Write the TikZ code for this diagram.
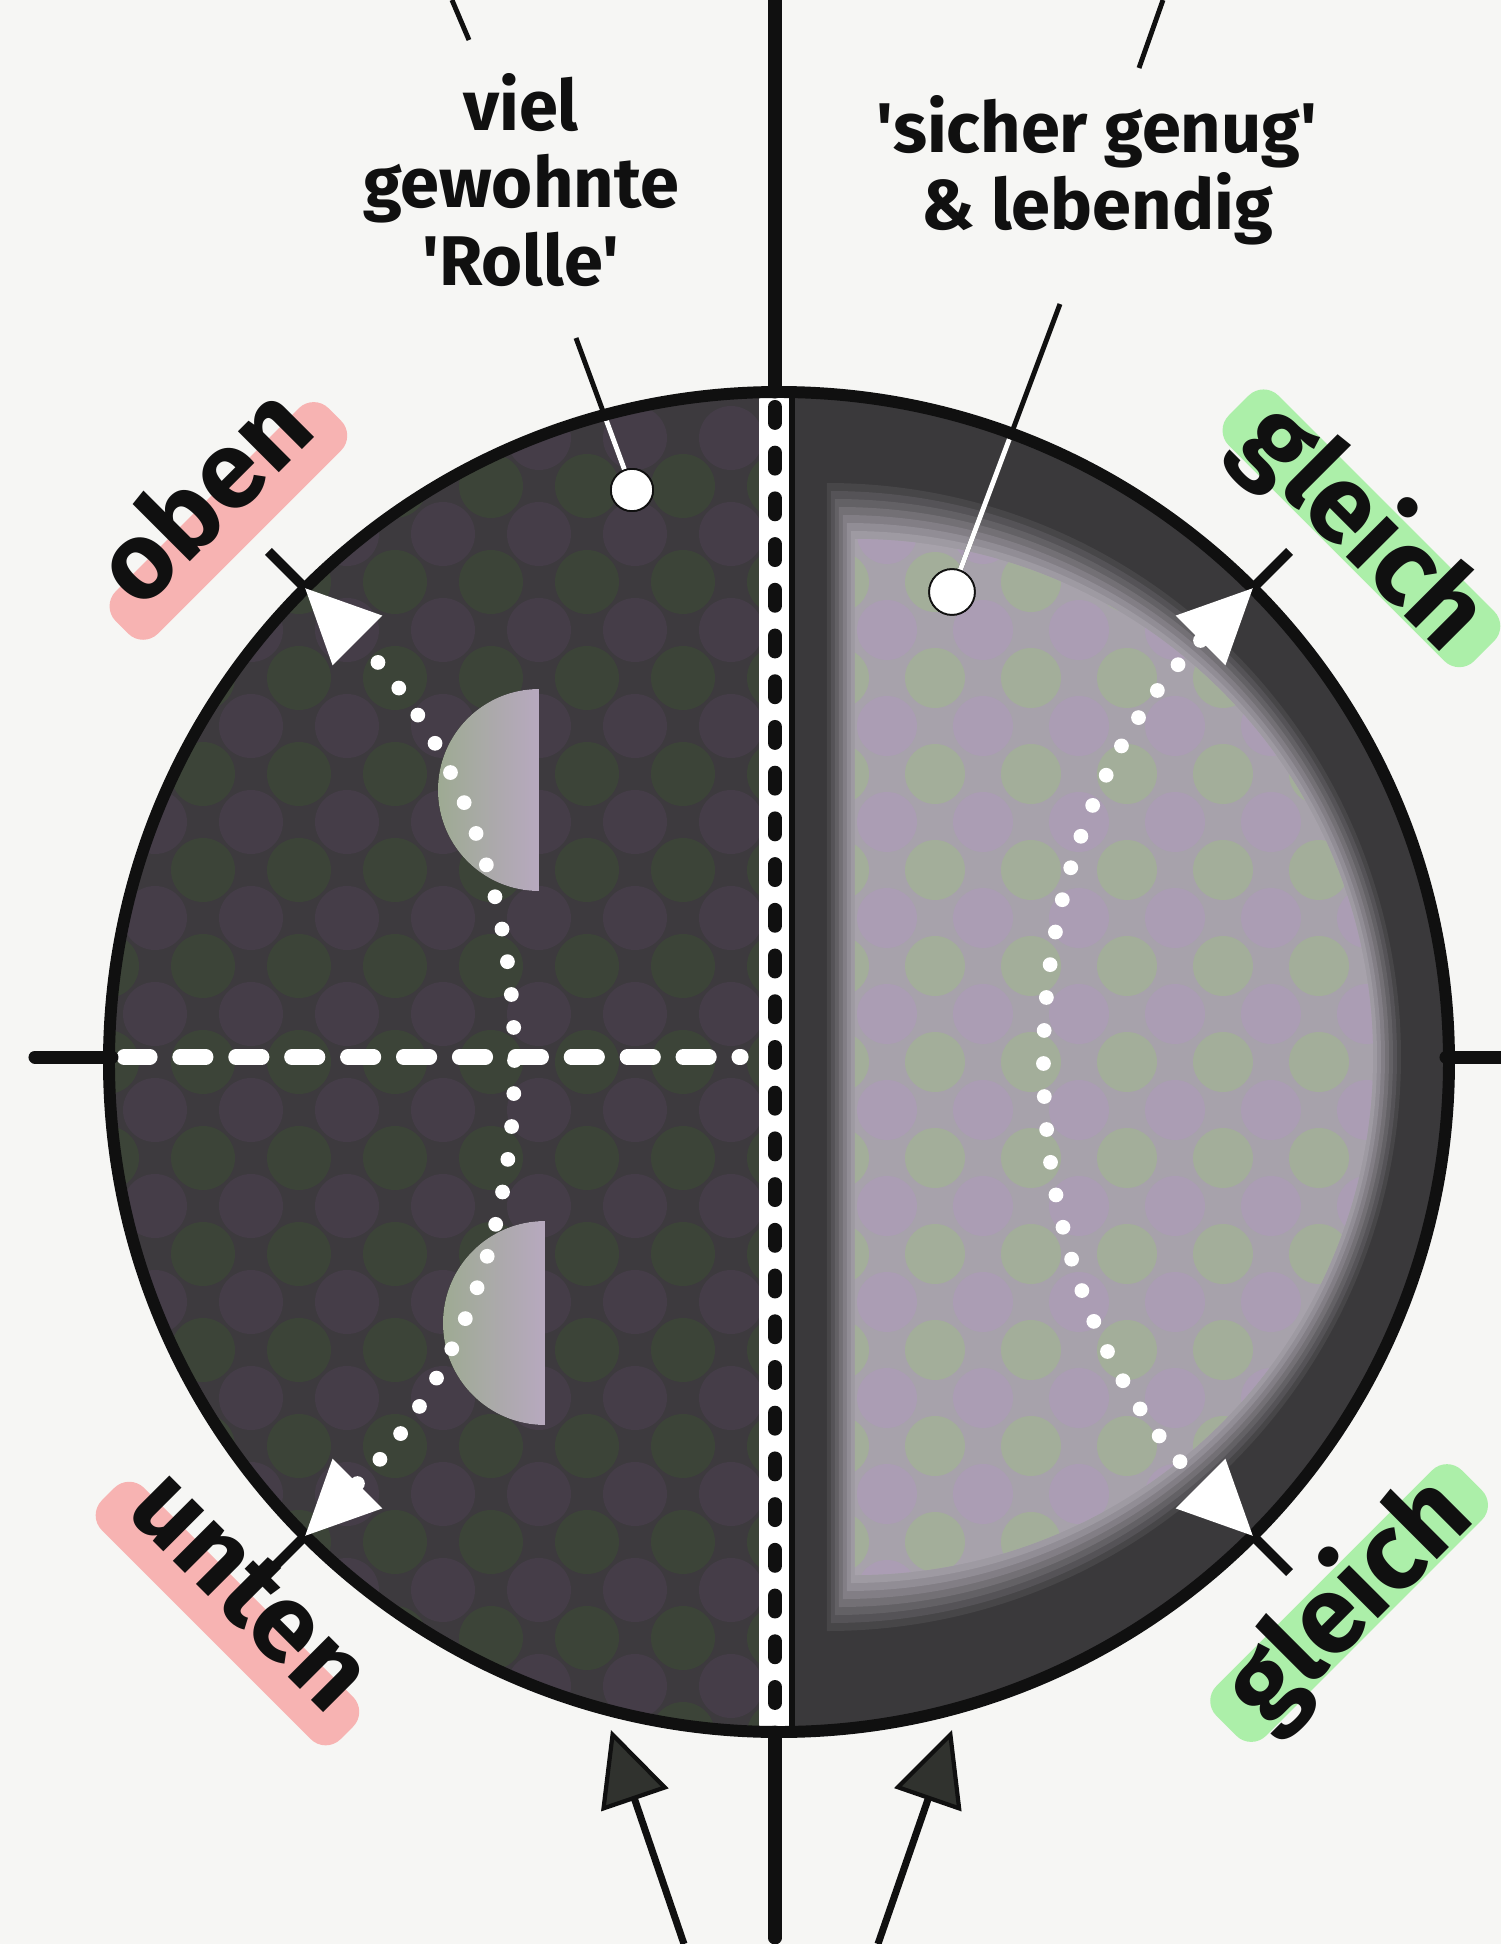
\documentclass[tikz,border=0pt]{standalone}
\usepackage{fontspec}
\setmainfont{Fira Sans}[Ligatures=TeXOff]
\usetikzlibrary{arrows.meta}
\definecolor{Paper}{HTML}{F6F6F4}
\definecolor{Ink}{HTML}{101010}
\definecolor{Dusk}{HTML}{3D3A3E}
\definecolor{DuskGreen}{HTML}{3C4438}
\definecolor{DuskLilac}{HTML}{453D48}
\definecolor{Band}{HTML}{3A393B}
\definecolor{Mist}{HTML}{A7A2AB}
\definecolor{MistGreen}{HTML}{A3AE9A}
\definecolor{MistLilac}{HTML}{AB9DB4}
\definecolor{LensGreen}{HTML}{9EAA93}
\definecolor{LensLilac}{HTML}{B7A9BF}
\definecolor{MarkPink}{HTML}{F8A8A7}
\definecolor{MarkGreen}{HTML}{A0EE9C}
\definecolor{TipGrey}{HTML}{30322E}
\tikzset{
  axisline/.style={draw=Ink,line width=3.7pt,line cap=round},
  rim/.style={draw=Ink,line width=3.4pt},
  tickline/.style={draw=Ink,line width=2.8pt},
  leader/.style={draw=Ink,line width=1.4pt},
  leaderin/.style={draw=white,line width=1.4pt},
  seam/.style={draw=Ink,line width=4pt,line cap=round,dash pattern=on 4.5pt off 8.5pt},
  midline/.style={draw=white,line width=4.3pt,line cap=round,dash pattern=on 7.4pt off 8.5pt},
  swing/.style={draw=white,line width=4.2pt,line cap=round,dash pattern=on 0pt off 9.4pt,
    {Triangle[length=21pt,width=20pt,line width=0pt]}-{Triangle[length=21pt,width=20pt,line width=0pt]}},
  push/.style={draw=Ink,line width=2pt,-{Triangle[length=21pt,width=20pt,fill=TipGrey,line width=1.2pt]}},
  spot/.style={circle,fill=white,draw=Ink,line width=.5pt,minimum size=12pt,inner sep=0pt},
  note/.style={font=\bfseries\fontsize{20}{22}\selectfont,align=center,text=Ink},
  side/.style={font=\bfseries\fontsize{31}{33}\selectfont,text=Ink,inner xsep=7pt,inner ysep=0pt,
    rounded corners=6pt,fill opacity=.85,text opacity=1},
  pinkmark/.style={side,fill=MarkPink,text height=9pt,text depth=8pt},
  greenmark/.style={side,fill=MarkGreen,text height=19pt,text depth=1pt},
  lens/.style={left color=LensGreen,right color=LensLilac}
}
\begin{document}
\begin{tikzpicture}[x=0.01cm,y=0.01cm]
\useasboundingbox[fill=Paper] (-779,-882) rectangle (722,1062);
% disc fills
\begin{scope}
  \clip (0,0) circle (670);
  \fill[Dusk] (-680,-680) rectangle (-4,680);
  \foreach \i in {-7,...,0}
    \foreach \j in {-7,...,6}{
      \fill[DuskGreen] (\i*96,\j*96) circle (32);
      \fill[DuskLilac] (\i*96+48,\j*96+48) circle (32);
    }
  \fill[Band] (-4,-680) rectangle (680,680);
  \foreach \d/\c in {0/Mist!12!Band,4/Mist!25!Band,8/Mist!38!Band,12/Mist!52!Band,16/Mist!66!Band,20/Mist!80!Band,24/Mist!92!Band,28/Mist}{
    \pgfmathsetmacro\r{574-2*\d}
    \fill[\c] (48+\d,5-\r) arc[start angle=-90,end angle=90,radius=\r] -- cycle;
  }
  \begin{scope}
    \clip (76,-513) arc[start angle=-90,end angle=90,radius=518] -- cycle;
    \foreach \i in {0,...,6}
      \foreach \j in {-6,...,6}{
        \fill[MistGreen] (60+\i*96,\j*96) circle (30);
        \fill[MistLilac] (108+\i*96,\j*96+48) circle (30);
      }
  \end{scope}
\end{scope}
\fill[lens] (-240,373) arc[start angle=90,end angle=270,radius=101] -- cycle;
\fill[lens] (-234,-159) arc[start angle=90,end angle=270,radius=102] -- cycle;
% axes inside
\fill[white] (-20,-672) rectangle (12,672);
\draw[Ink,line width=1.6pt] (13,-670) -- (13,670);
\draw[seam] (-4,655) -- (-4,-655);
\draw[midline] (-655,5) -- (-38,5);
% leaders
\node[spot] (rolledot) at (-147,572) {};
\node[spot,minimum size=13pt] (lebendigdot) at (173,470) {};
\coordinate (rolletop) at (-203,724);
\coordinate (lebendigtop) at (281,758);
\draw[leader] (rolletop) -- (rolledot);
\draw[leader] (lebendigtop) -- (lebendigdot);
\begin{scope}
  \clip (0,0) circle (664);
  \draw[leaderin] (rolletop) -- (rolledot);
  \draw[leaderin] (lebendigtop) -- (lebendigdot);
\end{scope}
\node[spot] at (rolledot) {};
\node[spot,minimum size=13pt] at (lebendigdot) {};
\draw[rim] (0,0) circle (670);
% axes outside
\draw[axisline] (-4,1062) -- (-4,670);
\draw[axisline] (-4,-670) -- (-4,-876);
\draw[axisline] (-744,5) -- (-667,5);
\draw[axisline] (667,5) -- (730,5);
\foreach \a in {45,135,225,315}
  \draw[tickline] (\a:668) -- (\a:722);
% swings
\coordinate (obenpt) at (135:670);
\coordinate (untenpt) at (225:670);
\coordinate (gleichobenpt) at (45:670);
\coordinate (gleichuntenpt) at (315:670);
\draw[swing] (untenpt) arc[start angle=-45,end angle=45,radius=670];
\draw[swing] (gleichobenpt) arc[start angle=135,end angle=225,radius=670];
% labels
\node[note] (rolle) at (-258,882) {viel\\gewohnte\\'Rolle'};
\node[note] (lebendig) at (318,892) {'sicher genug'\\\& lebendig};
\node[pinkmark,rotate=45] (oben) at (135.5:772) {oben};
\node[pinkmark,rotate=-45] (unten) at (225:780) {unten};
\node[greenmark,rotate=-45] (gleichoben) at (42.5:790) {gleich};
\node[greenmark,rotate=45] (gleichunten) at (-43.5:786) {gleich};
\coordinate (stubl) at (-327,1062);
\coordinate (stubr) at (384,1062);
\draw[leader] (stubl) -- (-310,1022);
\draw[leader] (stubr) -- (360,994);
% bottom arrows
\coordinate (pushlfoot) at (-95,-882);
\coordinate (pushltip) at (-168,-668);
\coordinate (pushrfoot) at (99,-882);
\coordinate (pushrtip) at (173,-668);
\draw[push] (pushlfoot) -- (pushltip);
\draw[push] (pushrfoot) -- (pushrtip);
\end{tikzpicture}
\end{document}
